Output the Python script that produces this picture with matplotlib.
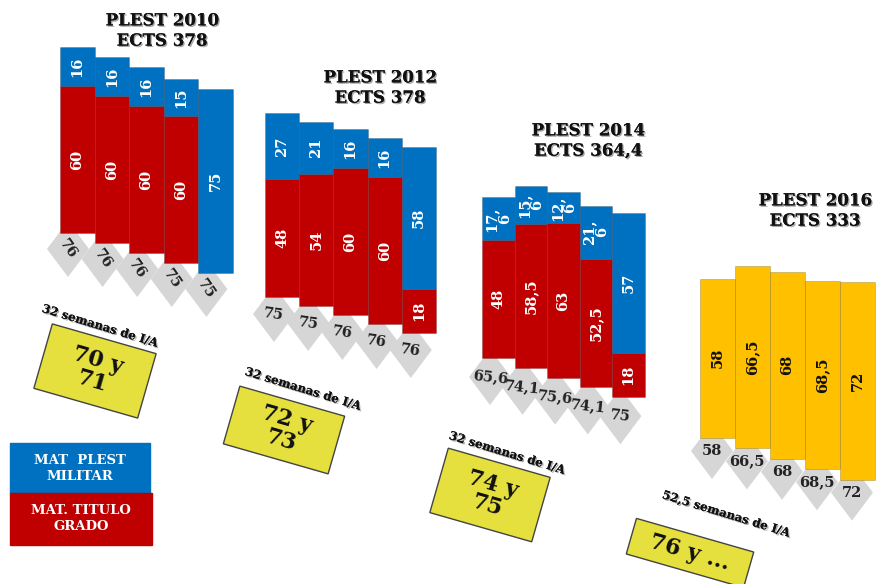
import matplotlib.pyplot as plt
import matplotlib.patheffects as pe
from matplotlib.patches import Polygon, Rectangle
from matplotlib.transforms import Affine2D

# Data
years = ['2010', '2012', '2014', '2016']
ects = ['378', '378', '364,4', '333']

militar_2010 = [16, 16, 16, 15, 75]
grado_2010 = [60, 60, 60, 60, 0]
militar_2012 = [27, 21, 16, 16, 58]
grado_2012 = [48, 54, 60, 60, 18]
militar_2014 = [17.6, 15.6, 12.6, 21.6, 57]
grado_2014 = [48, 58.5, 63, 52.5, 18]
plest_2016 = [58, 66.5, 68, 68.5, 72]

weeks = ['32', '32', '32', '52,5']
ages = ['70 y\n71', '72 y\n73', '74 y\n75', '76 y ...']

# Layout (pixel coordinates of the infographic)
group_left = [60, 265, 482, 700]
bar_w = [34.6, 34.2, 32.6, 35]
first_bottom = [233, 297, 358, 438]
bottom_step = [10, 9, 9.8, 10.4]
px_per_unit = [2.45, 2.45, 2.45, 2.75]
title_xy = [(162, 31), (380, 88), (588, 141), (815, 211)]
total_rot = [-55, -8, -6, 0]
total_off = [(8, 16), (9, 17), (8, 19), (12, 13)]
box_xy = [(95, 371), (284, 430), (490, 495), (690, 553)]
box_size = [(108, 67), (109, 60), (106, 67), (122, 37)]
week_xy = [(100, 326), (303, 389), (507, 453), (726, 514)]

BLUE = '#0070C0'
RED = '#C00000'
GOLD = '#FFC000'
GRAY = '#D6D6D6'
BOXY = '#E6E03E'
SERIF = 'DejaVu Serif'


def fmt(v):
    return f'{v:g}'.replace('.', ',')


def seg_label(v, h):
    # short segments wrap decimal labels onto two lines
    s = fmt(v)
    if ',' in s and h < 60:
        a, b = s.split(',')
        return a + ',\n' + b
    return s


fig = plt.figure(figsize=(8.77, 5.84), dpi=100)
ax = fig.add_axes([0, 0, 1, 1])
ax.set_xlim(0, 877)
ax.set_ylim(584, 0)
ax.axis('off')

shadow = [pe.withSimplePatchShadow(offset=(1, -1), alpha=0.35), pe.Normal()]


def draw_group(g, top_vals, low_vals, top_color, low_color, txt_color):
    w = bar_w[g]
    s = px_per_unit[g]
    for j in range(len(top_vals)):
        x = group_left[g] + j * w
        bottom = first_bottom[g] + j * bottom_step[g]
        low_h = low_vals[j] * s
        top_h = top_vals[j] * s

        # gray diamond with the total
        cx = x + total_off[g][0]
        cy = bottom + total_off[g][1]
        ax.add_patch(Polygon([(cx, cy - 28), (cx + 21, cy), (cx, cy + 28), (cx - 21, cy)],
                             closed=True, color=GRAY, zorder=1, lw=0))
        ax.text(cx, cy, fmt(top_vals[j] + low_vals[j]), rotation=total_rot[g],
                ha='center', va='center', fontsize=10.5, fontweight='bold',
                family=SERIF, color='#222222', zorder=5)

        if low_h > 0:
            ax.bar(x, low_h, width=w, bottom=bottom - low_h, align='edge',
                   color=low_color, edgecolor='#00000033', lw=0.6, zorder=3)
            ax.text(x + w / 2, bottom - low_h / 2, seg_label(low_vals[j], low_h), rotation=90,
                    ha='center', va='center', fontsize=10.5, fontweight='bold',
                    family=SERIF, color=txt_color, zorder=4, linespacing=0.9)
        ax.bar(x, top_h, width=w, bottom=bottom - low_h - top_h, align='edge',
               color=top_color, edgecolor='#00000033', lw=0.6, zorder=3)
        ax.text(x + w / 2, bottom - low_h - top_h / 2, seg_label(top_vals[j], top_h), rotation=90,
                ha='center', va='center', fontsize=10.5, fontweight='bold',
                family=SERIF, color=txt_color, zorder=4, linespacing=0.9)

    tx, ty = title_xy[g]
    ax.text(tx, ty, f'PLEST {years[g]}\nECTS {ects[g]}', ha='center', va='center',
            fontsize=12, fontweight='bold', family=SERIF, color='#111111',
            linespacing=1.25, path_effects=shadow, zorder=6)


draw_group(0, militar_2010, grado_2010, BLUE, RED, 'white')
draw_group(1, militar_2012, grado_2012, BLUE, RED, 'white')
draw_group(2, militar_2014, grado_2014, BLUE, RED, 'white')
draw_group(3, plest_2016, [0] * 5, GOLD, GOLD, '#111111')

# yellow tilted boxes with the ages and the weeks of instruction
for k in range(len(ages)):
    cx, cy = box_xy[k]
    bw, bh = box_size[k]
    tr = Affine2D().rotate_deg_around(cx, cy, 16) + ax.transData
    ax.add_patch(Rectangle((cx - bw / 2, cy - bh / 2), bw, bh, facecolor=BOXY,
                           edgecolor='#444444', lw=1, transform=tr, zorder=2))
    ax.text(cx, cy, ages[k], rotation=-16, ha='center', va='center', fontsize=16,
            fontweight='bold', family=SERIF, color='#111111', linespacing=1.0,
            rotation_mode='anchor', zorder=3)
    wx, wy = week_xy[k]
    ax.text(wx, wy, f'{weeks[k]} semanas de I/A', rotation=-17, ha='center', va='center',
            fontsize=8.5, fontweight='bold', family=SERIF, color='#111111',
            rotation_mode='anchor', path_effects=shadow, zorder=3)

# legend boxes
ax.add_patch(Rectangle((10, 443), 140, 50, color=BLUE, zorder=2))
ax.add_patch(Rectangle((10, 493), 142, 52, color=RED, zorder=2))
ax.text(80, 468, 'MAT  PLEST\nMILITAR', ha='center', va='center', fontsize=9.5,
        fontweight='bold', family=SERIF, color='white', linespacing=1.3, zorder=3)
ax.text(81, 519, 'MAT. TITULO\nGRADO', ha='center', va='center', fontsize=9.5,
        fontweight='bold', family=SERIF, color='white', linespacing=1.3, zorder=3)

fig.savefig('out.png', dpi=100)
